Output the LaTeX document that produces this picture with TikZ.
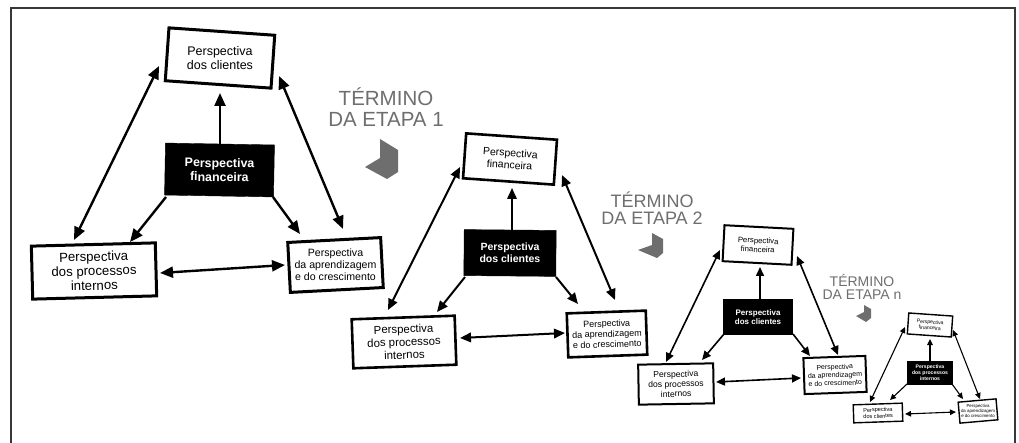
\documentclass[tikz,border=0pt]{standalone}
\usepackage{fontspec}
\setmainfont{Liberation Sans}
\usetikzlibrary{arrows.meta}
\definecolor{stagegray}{gray}{0.43}
\definecolor{framegray}{gray}{0.22}

\tikzset{
  wbox/.style={draw=black, fill=white, align=center, inner sep=0pt},
  bbox/.style={draw=black, fill=black, text=white, align=center, inner sep=0pt},
  label text/.style={align=center, inner sep=0pt},
  fs/.style 2 args={font=\fontsize{#1}{#2}\selectfont},
  fsb/.style 2 args={font=\fontsize{#1}{#2}\selectfont\bfseries},
  % connectors, one pair of styles per stage size
  one1/.style={line width=2.4pt, -{Triangle[length=13pt,width=11pt]}},
  two1/.style={line width=2.4pt, {Triangle[length=13pt,width=11pt]}-{Triangle[length=13pt,width=11pt]}},
  one2/.style={line width=2pt, -{Triangle[length=11pt,width=9.5pt]}},
  two2/.style={line width=2pt, {Triangle[length=11pt,width=9.5pt]}-{Triangle[length=11pt,width=9.5pt]}},
  one3/.style={line width=1.6pt, -{Triangle[length=9pt,width=8pt]}},
  two3/.style={line width=1.6pt, {Triangle[length=9pt,width=8pt]}-{Triangle[length=9pt,width=8pt]}},
  one4/.style={line width=1.1pt, -{Triangle[length=6pt,width=5.5pt]}},
  two4/.style={line width=1.1pt, {Triangle[length=6pt,width=5.5pt]}-{Triangle[length=6pt,width=5.5pt]}},
  stage/.style={text=stagegray, align=center, inner sep=0pt, anchor=south, text depth=0pt},
  corner/.style={fill=stagegray, draw=none},
}

\begin{document}
\begin{tikzpicture}[x=1pt, y=-1pt]
\useasboundingbox (0,0) rectangle (1019,443);

% outer frame (open at the bottom)
\draw[framegray, line width=1.6pt] (11,443) -- (11,8) -- (1015,8) -- (1015,443);

% ---------- stage 1 ----------
\node[wbox, line width=3pt, minimum width=106pt, minimum height=53pt, rotate=-4]
  (cli1) at (220,58) {};
\node[label text, fs={12.5}{14.3}] (cli1t) at (cli1.center) {Perspectiva\\dos clientes};
\node[bbox, minimum width=109pt, minimum height=52pt, rotate=-1, fsb={12.4}{14}]
  (fin1) at (219.5,170) {Perspectiva\\financeira};
\node[wbox, line width=3pt, minimum width=124pt, minimum height=53pt, rotate=1.5, fs={13.2}{14.4}]
  (pro1) at (94,271) {Perspectiva\\dos processos\\internos};
\node[wbox, line width=3pt, minimum width=93pt, minimum height=50pt, rotate=3]
  (apr1) at (335.5,265) {};
\node[label text, fs={10.6}{12.2}] (apr1t) at (apr1.center) {Perspectiva\\da aprendizagem\\e do crescimento};

\draw[one1] ([shift={(0.5,-26)}]fin1.center) -- ([shift={(0,35)}]cli1.center);
\draw[two1] ([shift={(-61,8)}]cli1.center) -- ([shift={(-20,-31)}]pro1.center);
\draw[two1] ([shift={(59,18)}]cli1.center) -- ([shift={(7.5,-36)}]apr1.center);
\draw[one1] ([shift={(-53.5,27)}]fin1.center) -- ([shift={(36,-29)}]pro1.center);
\draw[one1] ([shift={(53.5,27)}]fin1.center) -- ([shift={(-35.5,-31)}]apr1.center);
\draw[two1] ([shift={(66,2)}]pro1.center) -- ([shift={(-50.5,0)}]apr1.center);

\node[stage, fs={20.5}{20.5}] (end1) at (386,126.7) {TÉRMINO\\DA ETAPA 1};
\fill[corner] (380,139) -- (398,150) -- (398,172) -- (387,179) -- (365,167) -- (380,158) -- cycle;

% ---------- stage 2 ----------
\node[wbox, line width=2.6pt, minimum width=91pt, minimum height=45pt, rotate=-4, fs={10.5}{12}]
  (fin2) at (510,159) {Perspectiva\\financeira};
\node[bbox, minimum width=92pt, minimum height=46pt, rotate=-0.5, fsb={10.5}{12}]
  (cli2) at (510,253) {Perspectiva\\dos clientes};
\node[wbox, line width=2.6pt, minimum width=103pt, minimum height=49pt, rotate=2, fs={11.4}{13}]
  (pro2) at (404,342) {Perspectiva\\dos processos\\internos};
\node[wbox, line width=2.6pt, minimum width=79pt, minimum height=44pt, rotate=2, fs={9}{10.4}]
  (apr2) at (607,334) {Perspectiva\\da aprendizagem\\e do crescimento};

\draw[one2] ([shift={(2,-23)}]cli2.center) -- ([shift={(2,29)}]fin2.center);
\draw[two2] ([shift={(-50,8)}]fin2.center) -- ([shift={(-16,-32)}]pro2.center);
\draw[two2] ([shift={(52,16)}]fin2.center) -- ([shift={(8,-34)}]apr2.center);
\draw[one2] ([shift={(-45,24)}]cli2.center) -- ([shift={(33,-30)}]pro2.center);
\draw[one2] ([shift={(46,24)}]cli2.center) -- ([shift={(-29,-30)}]apr2.center);
\draw[two2] ([shift={(56,-4)}]pro2.center) -- ([shift={(-42,-1)}]apr2.center);

\node[stage, fs={18}{17.5}] (end2) at (652,225) {TÉRMINO\\DA ETAPA 2};
\fill[corner] (652,233) -- (663,239) -- (663,253) -- (657,258) -- (638,250) -- (652,245) -- cycle;

% ---------- stage 3 ----------
\node[wbox, line width=2pt, minimum width=69pt, minimum height=36pt, rotate=-3, fs={7.8}{9}]
  (fin3) at (758,245) {Perspectiva\\financeira};
\node[bbox, minimum width=69pt, minimum height=35pt, fsb={8}{9.2}]
  (cli3) at (758,317) {Perspectiva\\dos clientes};
\node[wbox, line width=2pt, minimum width=75pt, minimum height=40pt, rotate=1, fs={8.6}{9.9}]
  (pro3) at (676,384) {Perspectiva\\dos processos\\internos};
\node[wbox, line width=2pt, minimum width=62pt, minimum height=36pt, rotate=2, fs={7}{8.1}]
  (apr3) at (835,375) {Perspectiva\\da aprendizagem\\e do crescimento};

\draw[one3] ([shift={(2,-18)}]cli3.center) -- ([shift={(2,22)}]fin3.center);
\draw[two3] ([shift={(-38,5)}]fin3.center) -- ([shift={(-10,-22)}]pro3.center);
\draw[two3] ([shift={(39,11)}]fin3.center) -- ([shift={(3,-20)}]apr3.center);
\draw[one3] ([shift={(-34,17)}]cli3.center) -- ([shift={(26,-24)}]pro3.center);
\draw[one3] ([shift={(35,17)}]cli3.center) -- ([shift={(-25,-19)}]apr3.center);
\draw[two3] ([shift={(40,-2)}]pro3.center) -- ([shift={(-34,3)}]apr3.center);

\node[stage, fs={14}{13}] (end3) at (862,300) {TÉRMINO\\DA ETAPA n};
\fill[corner] (864,305) -- (871,309) -- (871,318) -- (866,322) -- (856,316) -- (864,312) -- cycle;

% ---------- stage n ----------
\node[wbox, line width=1.4pt, minimum width=44pt, minimum height=21pt, rotate=-4, fs={5.1}{5.9}]
  (fin4) at (930,325) {Perspectiva\\financeira};
\node[bbox, minimum width=45pt, minimum height=23pt, fsb={5.1}{5.9}]
  (blk4) at (930,373) {Perspectiva\\dos processos\\internos};
\node[wbox, line width=1.4pt, minimum width=49pt, minimum height=18pt, rotate=2, fs={5.6}{6.5}]
  (cli4) at (878,413) {Perspectiva\\dos clientes};
\node[wbox, line width=1.4pt, minimum width=38pt, minimum height=21pt, rotate=5]
  (apr4) at (978,411) {};
\node[label text, fs={4.4}{5.3}] (apr4t) at (apr4.center) {Perspectiva\\da aprendizagem\\e do crescimento};

\draw[one4] ([shift={(0,-12)}]blk4.center) -- ([shift={(0,14)}]fin4.center);
\draw[two4] ([shift={(-25,2)}]fin4.center) -- ([shift={(-8,-11)}]cli4.center);
\draw[two4] ([shift={(23,5)}]fin4.center) -- ([shift={(2,-12)}]apr4.center);
\draw[one4] ([shift={(-23,11)}]blk4.center) -- ([shift={(12,-13)}]cli4.center);
\draw[one4] ([shift={(22,11)}]blk4.center) -- ([shift={(-15,-12)}]apr4.center);
\draw[two4] ([shift={(27,1)}]cli4.center) -- ([shift={(-22,1)}]apr4.center);
\end{tikzpicture}
\end{document}
